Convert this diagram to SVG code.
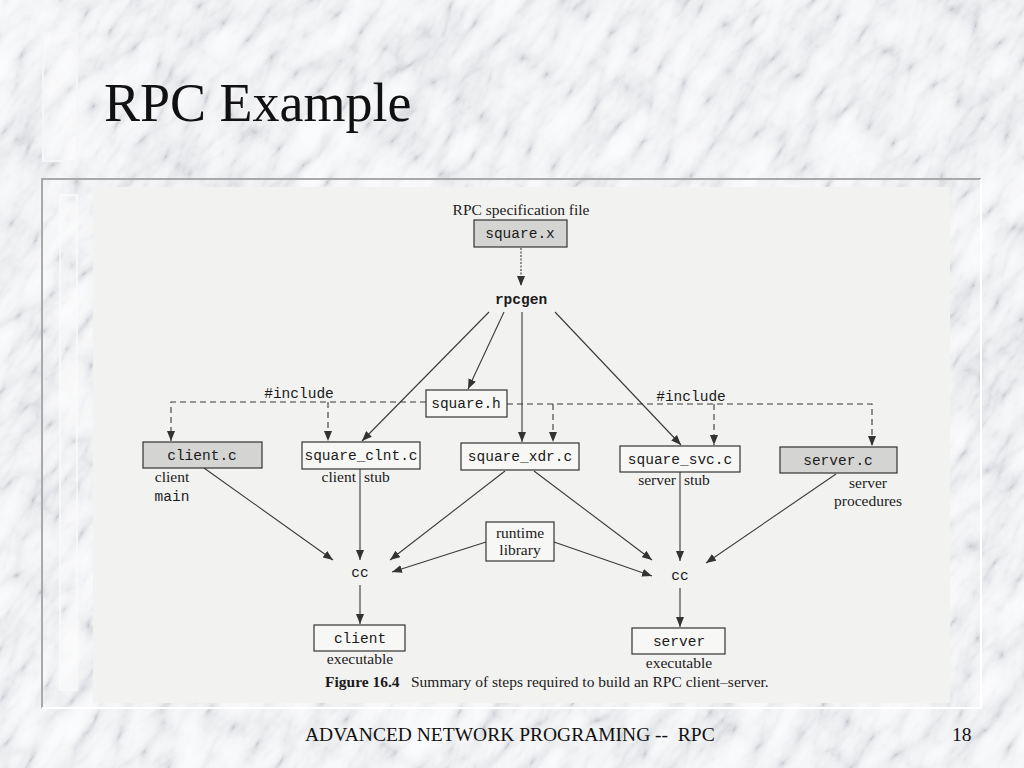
<svg xmlns="http://www.w3.org/2000/svg" width="1024" height="768" viewBox="0 0 1024 768">
  <style>
    .serif { font-family: "Liberation Serif", "Times New Roman", serif; fill: #111; }
    .mono { font-family: "Liberation Mono", "Courier New", monospace; font-size: 14.5px; fill: #1a1a1a; }
    .lbl { font-family: "Liberation Serif", "Times New Roman", serif; font-size: 15.5px; fill: #1a1a1a; }
    .box { fill: #f7f7f5; stroke: #333; stroke-width: 1.2; }
    .gbox { fill: #d4d4d2; stroke: #333; stroke-width: 1.2; }
    .conn { fill: none; stroke: #3a3a3a; stroke-width: 1.1; marker-end: url(#ah); }
    .dashA { fill: none; stroke: #3a3a3a; stroke-width: 1.1; stroke-dasharray: 6 4; marker-end: url(#ah); }
  </style>
  <defs>
    <marker id="ah" viewBox="0 0 10 8" refX="10" refY="4" markerWidth="10" markerHeight="8" markerUnits="userSpaceOnUse" orient="auto">
      <path d="M0,0 L10,4 L0,8 z" fill="#333"/>
    </marker>
    <filter id="marble" x="0" y="0" width="1" height="1">
      <feTurbulence type="turbulence" baseFrequency="0.014 0.034" numOctaves="5" seed="11" result="t"/>
      <feColorMatrix in="t" type="matrix" values="0.33 0.33 0.33 0 0  0.33 0.33 0.33 0 0  0.33 0.33 0.33 0 0  0 0 0 0 1" result="g"/>
      <feComponentTransfer in="g">
        <feFuncR type="table" tableValues="0.48 0.7 0.82 0.89 0.93 0.95 0.96 0.96 0.96 0.96"/>
        <feFuncG type="table" tableValues="0.49 0.71 0.83 0.895 0.935 0.955 0.965 0.965 0.965 0.965"/>
        <feFuncB type="table" tableValues="0.52 0.74 0.85 0.91 0.945 0.965 0.975 0.975 0.975 0.975"/>
      </feComponentTransfer>
    </filter>
  </defs>

  <!-- marble background -->
  <rect x="0" y="0" width="1024" height="768" fill="#e2e2e4"/>
  <g transform="rotate(-55 512 384)">
    <rect x="-420" y="-420" width="1864" height="1608" fill="#fff" filter="url(#marble)"/>
  </g>

  <!-- decorative frames -->
  <rect x="43" y="33" width="34" height="128" fill="#ffffff" fill-opacity="0.3" stroke="#f6f6f6" stroke-width="2"/>
  <path d="M42,708 V179 H981" fill="none" stroke="#a9a9a9" stroke-width="2"/>
  <path d="M981,179 V708 H42" fill="none" stroke="#ffffff" stroke-width="2"/>
  <rect x="60" y="195" width="17" height="495" fill="#ffffff" fill-opacity="0.25" stroke="#fafafa" stroke-width="1.5"/>
  <rect x="93" y="187" width="857" height="516" fill="#f2f2f1"/>

  <!-- title and footer -->
  <text class="serif" x="104" y="121" font-size="54">RPC Example</text>
  <text class="serif" x="305" y="741" font-size="19.5" style="white-space:pre">ADVANCED NETWORK PROGRAMING --  RPC</text>
  <text class="serif" x="952" y="741" font-size="19.5">18</text>

  <!-- connectors -->
  <g id="connectors">
    <path class="conn" d="M521,248 V286" stroke-dasharray="2 1.5"/>
    <path class="conn" d="M504,312 L468,389"/>
    <path class="conn" d="M489,312 L362,441"/>
    <path class="conn" d="M522,312 V442"/>
    <path class="conn" d="M555,312 L681,445"/>
    <path class="conn" d="M204,468 L333,560"/>
    <path class="conn" d="M360,469 V560"/>
    <path class="conn" d="M505,471 L390,560"/>
    <path class="conn" d="M486,542 L392,572"/>
    <path class="conn" d="M554,542 L652,576"/>
    <path class="conn" d="M534,471 L652,560"/>
    <path class="conn" d="M680,472 V561"/>
    <path class="conn" d="M836,474 L706,563"/>
    <path class="conn" d="M360,585 V624"/>
    <path class="conn" d="M680,588 V627"/>
    <path class="dashA" d="M426,402 H171 V441"/>
    <path class="dashA" d="M328,402 V441"/>
    <path class="dashA" d="M507,404 H872 V446"/>
    <path class="dashA" d="M553,404 V442"/>
    <path class="dashA" d="M714,404 V445"/>
    <text class="mono" x="299" y="398" text-anchor="middle">#include</text>
    <text class="mono" x="691" y="401" text-anchor="middle">#include</text>
  </g>

  <!-- nodes -->
  <g id="square_x">
    <text class="lbl" x="521" y="215" text-anchor="middle">RPC specification file</text>
    <rect class="gbox" x="474" y="220" width="93" height="27"/>
    <text class="mono" x="520" y="238" text-anchor="middle">square.x</text>
  </g>
  <g id="rpcgen">
    <text class="mono" x="521" y="304" text-anchor="middle" font-weight="bold">rpcgen</text>
  </g>
  <g id="square_h">
    <rect class="box" x="426" y="390" width="81" height="27"/>
    <text class="mono" x="466" y="408" text-anchor="middle">square.h</text>
  </g>
  <g id="client_c">
    <rect class="gbox" x="143" y="442" width="119" height="26"/>
    <text class="mono" x="202" y="460" text-anchor="middle">client.c</text>
    <text class="lbl" x="172" y="482" text-anchor="middle">client</text>
    <text class="mono" x="172" y="501" text-anchor="middle">main</text>
  </g>
  <g id="square_clnt_c">
    <rect class="box" x="302" y="442" width="118" height="27"/>
    <text class="mono" x="361" y="460" text-anchor="middle">square_clnt.c</text>
    <text class="lbl" x="356" y="482" text-anchor="end">client</text>
    <text class="lbl" x="364" y="482">stub</text>
  </g>
  <g id="square_xdr_c">
    <rect class="box" x="461" y="443" width="118" height="27"/>
    <text class="mono" x="520" y="461" text-anchor="middle">square_xdr.c</text>
  </g>
  <g id="square_svc_c">
    <rect class="box" x="620" y="446" width="120" height="26"/>
    <text class="mono" x="680" y="464" text-anchor="middle">square_svc.c</text>
    <text class="lbl" x="676" y="485" text-anchor="end">server</text>
    <text class="lbl" x="684" y="485">stub</text>
  </g>
  <g id="server_c">
    <rect class="gbox" x="780" y="447" width="117" height="26"/>
    <text class="mono" x="838" y="465" text-anchor="middle">server.c</text>
    <text class="lbl" x="868" y="488" text-anchor="middle">server</text>
    <text class="lbl" x="868" y="506" text-anchor="middle">procedures</text>
  </g>
  <g id="runtime_library">
    <rect class="box" x="486" y="522" width="68" height="39"/>
    <text class="lbl" x="520" y="538" text-anchor="middle">runtime</text>
    <text class="lbl" x="520" y="555" text-anchor="middle">library</text>
  </g>
  <g id="cc_client">
    <text class="mono" x="360" y="577" text-anchor="middle">cc</text>
  </g>
  <g id="cc_server">
    <text class="mono" x="680" y="580" text-anchor="middle">cc</text>
  </g>
  <g id="client_exe">
    <rect class="box" x="314" y="625" width="91" height="26"/>
    <text class="mono" x="360" y="643" text-anchor="middle">client</text>
    <text class="lbl" x="360" y="664" text-anchor="middle">executable</text>
  </g>
  <g id="server_exe">
    <rect class="box" x="632" y="628" width="93" height="26"/>
    <text class="mono" x="679" y="646" text-anchor="middle">server</text>
    <text class="lbl" x="679" y="668" text-anchor="middle">executable</text>
  </g>
  <g id="caption">
    <text class="lbl" x="325" y="687" font-size="16.5"><tspan font-weight="bold">Figure 16.4</tspan><tspan x="411">Summary of steps required to build an RPC client–server.</tspan></text>
  </g>
</svg>
